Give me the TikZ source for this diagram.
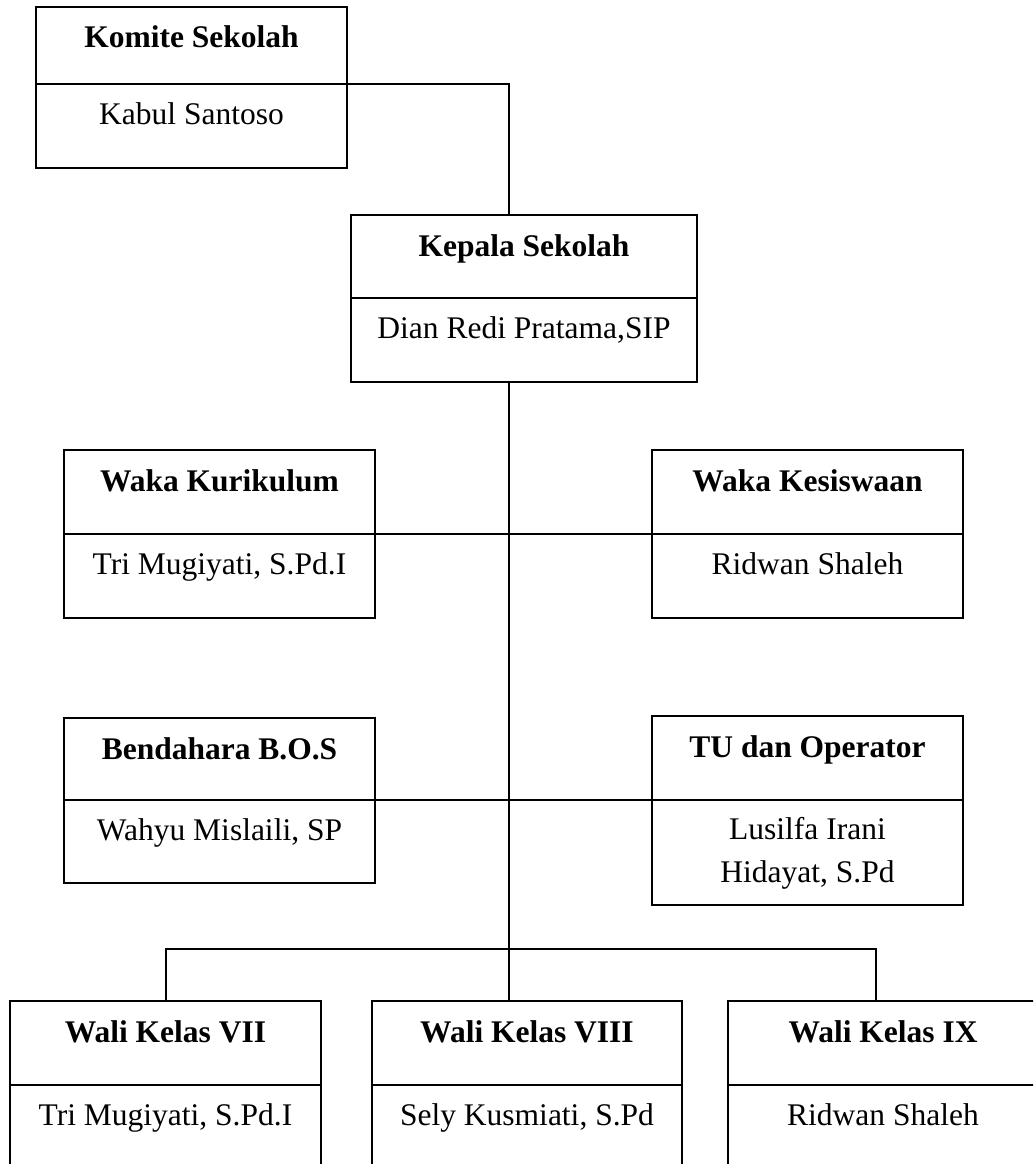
\documentclass[tikz,border=0pt]{standalone}
\usepackage{fontspec}
\setmainfont{Liberation Serif}
\begin{document}
\begin{tikzpicture}[x=1pt,y=-1pt,
  box/.style={draw, line width=1.8pt, anchor=north west, inner sep=0pt, outer sep=0pt},
  divline/.style={line width=1.8pt},
  ttl/.style={font=\fontsize{31.5}{38}\selectfont\bfseries, anchor=base, inner sep=0pt},
  nm/.style={font=\fontsize{31.5}{43}\selectfont, anchor=base, inner sep=0pt},
  link/.style={line width=1.4pt}]
\clip (0,0) rectangle (1033,1164);
\fill[white] (0,0) rectangle (1033,1164);
% box macro: id, left, top, right, divider, bottom, title, name
\newcommand{\orgbox}[8]{%
  \node[box, minimum width={(#4-#2)*1pt}, minimum height={(#6-#3)*1pt}] (#1) at (#2,#3) {};
  \coordinate (#1-dl) at (#2,#5);
  \coordinate (#1-dr) at (#4,#5);
  \draw[divline] (#1-dl) -- (#1-dr);
  \node[ttl] (#1-t) at ({(#2+#4)/2},{#3+41}) {#7};
  \node[nm] (#1-n) at ({(#2+#4)/2},{#5+40}) {#8};
}
\orgbox{komite}{36}{7}{347}{84}{168}{Komite Sekolah}{Kabul Santoso}
\orgbox{kepala}{351}{215}{697}{298}{382}{Kepala Sekolah}{Dian Redi Pratama,SIP}
\orgbox{wakakur}{64}{450}{375}{534}{618}{Waka Kurikulum}{Tri Mugiyati, S.Pd.I}
\orgbox{wakakes}{652}{450}{963}{534}{618}{Waka Kesiswaan}{Ridwan Shaleh}
\orgbox{bend}{64}{718}{375}{800}{883}{Bendahara B.O.S}{Wahyu Mislaili, SP}
\node[box, minimum width=311pt, minimum height=189pt] (tu) at (652,716) {};
\coordinate (tu-dl) at (652,800);
\coordinate (tu-dr) at (963,800);
\draw[divline] (tu-dl) -- (tu-dr);
\node[ttl] (tu-t) at (807.5,757) {TU dan Operator};
\node[nm, align=center] (tu-n) at (807.5,882) {Lusilfa Irani\\Hidayat, S.Pd};
\orgbox{wali7}{10}{1001}{321}{1085}{1185}{Wali Kelas VII}{Tri Mugiyati, S.Pd.I}
\orgbox{wali8}{372}{1001}{682}{1085}{1185}{Wali Kelas VIII}{Sely Kusmiati, S.Pd}
\orgbox{wali9}{728}{1001}{1038}{1085}{1185}{Wali Kelas IX}{Ridwan Shaleh}
% connectors
\coordinate (spine) at (509,0);
\coordinate (bus) at (509,949);
\coordinate (b7) at (166,0);
\coordinate (b9) at (876,0);
\draw[link] (komite-dr) -| (kepala.north -| spine);
\draw[link] (kepala.south -| spine) -- (wali8.north -| spine);
\draw[link] (wakakur-dr) -- (wakakes-dl);
\draw[link] (bend-dr) -- (tu-dl);
\draw[link] (wali7.north -| b7) |- (bus) -| (wali9.north -| b9);
\end{tikzpicture}
\end{document}
